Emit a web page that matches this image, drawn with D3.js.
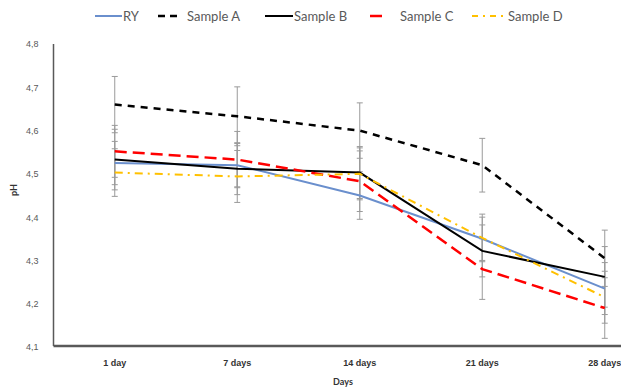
<!DOCTYPE html>
<html>
<head>
<meta charset="utf-8">
<script src="https://cdn.jsdelivr.net/npm/d3@7"></script>
<style>
 body { margin: 0; background: #fff; }
 svg { display: block; font-family: Lato, "Liberation Sans", sans-serif; }
</style>
</head>
<body>
<svg id="chart" width="621" height="391"></svg>
<script>
// chart data
var days = ["1 day", "7 days", "14 days", "21 days", "28 days"];
var yTicks = [4.1, 4.2, 4.3, 4.4, 4.5, 4.6, 4.7, 4.8];

var ry      = [4.525, 4.52, 4.45, 4.35, 4.235];
var sampleA = [4.66, 4.633, 4.60, 4.52, 4.305];
var sampleB = [4.533, 4.512, 4.503, 4.322, 4.262];
var sampleC = [4.552, 4.533, 4.483, 4.28, 4.19];
var sampleD = [4.503, 4.494, 4.50, 4.352, 4.215];

// standard deviations
var ryErr = [0.05, 0.05, 0.055, 0.05, 0.06];
var aErr  = [0.065, 0.068, 0.064, 0.062, 0.065];
var bErr  = [0.07, 0.06, 0.06, 0.06, 0.07];
var cErr  = [0.06, 0.065, 0.07, 0.07, 0.07];
var dErr  = [0.055, 0.06, 0.06, 0.055, 0.06];

var series = [
  {name: "RY",       vals: ry,      err: ryErr, color: "#6a8fcd", width: 2,   dash: null},
  {name: "Sample A", vals: sampleA, err: aErr,  color: "#000000", width: 2.5, dash: "7,6"},
  {name: "Sample B", vals: sampleB, err: bErr,  color: "#000000", width: 2,   dash: null},
  {name: "Sample C", vals: sampleC, err: cErr,  color: "#ff0000", width: 2.5, dash: "12,6"},
  {name: "Sample D", vals: sampleD, err: dErr,  color: "#ffc000", width: 2,   dash: "8,5,2,5"}
];

var svg = d3.select("#chart");

var plotL = 53.5, plotB = 346, plotT = 44;
var x = d3.scaleBand().domain(days).range([plotL, plotL + 5 * 122.5]);
var y = d3.scaleLinear().domain([4.1, 4.8]).range([347, plotT]);
function cx(i) { return x(days[i]) + x.bandwidth() / 2; }

// error bars first (behind lines)
var eb = svg.append("g");
series.forEach(function(s) {
  s.vals.forEach(function(v, i) {
    var px = cx(i);
    eb.append("line").attr("x1", px).attr("x2", px)
      .attr("y1", y(v + s.err[i])).attr("y2", y(v - s.err[i]))
      .attr("stroke", "#9a9a9a").attr("stroke-width", 1);
    [v + s.err[i], v - s.err[i]].forEach(function(e) {
      eb.append("line").attr("x1", px - 3).attr("x2", px + 3)
        .attr("y1", y(e)).attr("y2", y(e))
        .attr("stroke", "#9a9a9a").attr("stroke-width", 1);
    });
  });
});

// lines
var line = d3.line().x(function(d, i) { return cx(i); }).y(function(d) { return y(d); });
series.forEach(function(s) {
  svg.append("path").datum(s.vals)
    .attr("d", line)
    .attr("fill", "none")
    .attr("stroke", s.color)
    .attr("stroke-width", s.width)
    .attr("stroke-dasharray", s.dash);
});

// axes
svg.append("line").attr("x1", plotL).attr("x2", plotL).attr("y1", plotT).attr("y2", plotB)
  .attr("stroke", "#595959").attr("stroke-width", 1.5);
svg.append("line").attr("x1", plotL).attr("x2", 621).attr("y1", plotB).attr("y2", plotB)
  .attr("stroke", "#595959").attr("stroke-width", 2.5);

var yAxis = svg.append("g").attr("transform", "translate(" + (plotL - 12) + ",0)")
  .call(d3.axisLeft(y).tickValues(yTicks).tickSize(0)
    .tickFormat(function(d) { return d3.format(".1f")(d).replace(".", ","); }));
yAxis.select(".domain").remove();
yAxis.selectAll("text").attr("fill", "#595959").style("font-size", "9px");

var xAxis = svg.append("g").attr("transform", "translate(0," + (plotB + 11) + ")")
  .call(d3.axisBottom(x).tickSize(0));
xAxis.select(".domain").remove();
xAxis.selectAll("text").attr("fill", "#333").style("font-size", "9px").style("font-weight", "bold");

svg.append("text").attr("x", 343).attr("y", 385).attr("text-anchor", "middle")
  .attr("fill", "#333").style("font-size", "9px").style("font-weight", "bold").text("Days");
svg.append("text").attr("transform", "translate(17,190) rotate(-90)").attr("text-anchor", "middle")
  .attr("fill", "#333").style("font-size", "9px").style("font-weight", "bold").text("pH");

// legend
var legX = [95, 158, 265, 370, 472];
var legLen = [27, 20, 28, 16, 31];
var legTx = [123, 187, 294, 400, 508];
var leg = svg.append("g");
series.forEach(function(s, i) {
  leg.append("line").attr("x1", legX[i]).attr("x2", legX[i] + legLen[i])
    .attr("y1", 16).attr("y2", 16)
    .attr("stroke", s.color).attr("stroke-width", s.width)
    .attr("stroke-dasharray", s.dash ? (i === 1 ? "7,5" : (i === 4 ? "6,5,2,5" : s.dash)) : null);
  leg.append("text").attr("x", legTx[i]).attr("y", 20.5)
    .attr("fill", "#595959").style("font-size", "13px").text(s.name);
});
</script>
</body>
</html>
